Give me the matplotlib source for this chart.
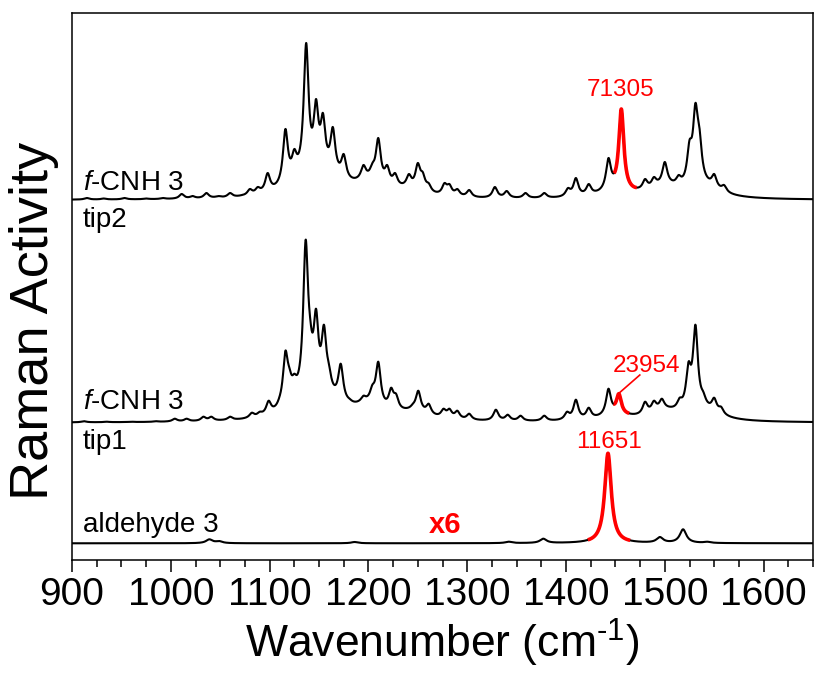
import numpy as np
import matplotlib
matplotlib.use("Agg")
import matplotlib.pyplot as plt
from matplotlib.ticker import MultipleLocator

plt.rcParams['font.family'] = ['Liberation Sans', 'DejaVu Sans']
plt.rcParams['mathtext.fontset'] = 'custom'
plt.rcParams['mathtext.rm'] = 'Liberation Sans'
plt.rcParams['mathtext.it'] = 'Liberation Sans:italic'

# ---- data: sharp band positions (cm-1) and apparent peak heights (arb. units) ----
tip2_pos = [915, 932, 953, 975, 992, 1011, 1022, 1036, 1048, 1060, 1072, 1080, 1088,
            1098, 1116, 1125, 1137, 1147, 1154,
            1164, 1175, 1195, 1204, 1210, 1219, 1227, 1241, 1250, 1255, 1261, 1277,
            1282, 1290, 1302, 1328, 1340, 1359, 1378, 1402, 1410, 1423, 1443, 1456,
            1465, 1480, 1489, 1500, 1514, 1525, 1531, 1535, 1550, 1560]
tip2_h = [2, 1.5, 2, 1.5, 2, 6, 4, 7, 4, 7, 5, 11, 13,
          27, 71, 51, 157, 101, 87,
          73, 46, 35, 37, 62, 35, 27, 26, 37, 28, 17, 17,
          16, 11, 10, 13, 9, 7, 7, 12, 22, 16, 42, 91,
          17, 21, 23, 38, 25, 60, 97, 73, 26, 15]
# broad unresolved background bands
tip2_bg_pos = [1130, 1160, 1200, 1240, 1450, 1500, 1540]
tip2_bg_h = [12, 15, 12, 6, 6, 10, 10]

tip1_pos = [912, 935, 960, 985, 1004, 1016, 1033, 1041, 1060, 1070, 1082, 1090, 1099,
            1110, 1116, 1120, 1125,
            1136.5, 1141, 1147, 1155, 1160, 1172, 1181, 1195, 1204, 1210, 1223, 1228,
            1245, 1250.5, 1261, 1276, 1282, 1290, 1302, 1329, 1341, 1354, 1378, 1401,
            1410, 1423, 1443, 1453.5, 1480, 1489, 1497, 1515, 1524, 1531, 1539, 1550,
            1557]
tip1_h = [1.5, 1, 1, 1.5, 4, 4, 6, 6, 6, 4, 10, 11, 22,
          26, 72, 55, 49,
          183, 105, 114, 98, 59, 59, 24, 27, 38, 61, 35, 29,
          19, 32, 19, 14, 14, 12, 9, 13, 8, 7, 7, 11,
          23, 15, 34, 29, 21, 22, 24, 25, 61, 98, 31, 25,
          16]
tip1_bg_pos = [1130, 1160, 1200, 1245, 1450, 1500, 1540]
tip1_bg_h = [12, 14, 12, 7, 5, 9, 9]

ald_pos = [1039, 1049, 1186, 1342, 1377, 1406, 1416, 1442.5, 1495, 1518.5, 1543]
ald_h = [4, 2.3, 1.3, 1.6, 4.6, 1, 1, 90, 6.3, 14, 1.6]

offsets = {'tip2': 360, 'tip1': 137.3, 'ald': 16.7}
red_ranges = {'tip2': (1448.5, 1471.7), 'tip1': (1448, 1464), 'ald': (1422, 1465)}
labels_red = ['71305', '23954', '11651']

x_min, x_max = 900, 1650


def lor(x, x0, g):
    return g**2 / ((x - x0)**2 + g**2)


def spectrum(x, pos, h, g, bg_pos=(), bg_h=(), g_bg=20.0):
    pos = np.asarray(pos, float)
    h = np.asarray(h, float)
    bgp = np.asarray(bg_pos, float)
    bgh = np.asarray(bg_h, float)

    def bg(xx):
        if len(bgp) == 0:
            return np.zeros_like(xx)
        return (bgh[None, :] * lor(xx[:, None], bgp[None, :], g_bg)).sum(axis=1)

    M = lor(pos[:, None], pos[None, :], g)
    amp = np.linalg.lstsq(M, h - bg(pos), rcond=None)[0]
    amp = np.clip(amp, 0, None)
    return (amp[None, :] * lor(x[:, None], pos[None, :], g)).sum(axis=1) + bg(x)


x = np.linspace(x_min, x_max, 6000)
specs = {
    'tip2': spectrum(x, tip2_pos, tip2_h, 3.0, tip2_bg_pos, tip2_bg_h) + offsets['tip2'],
    'tip1': spectrum(x, tip1_pos, tip1_h, 3.0, tip1_bg_pos, tip1_bg_h) + offsets['tip1'],
    'ald': spectrum(x, ald_pos, ald_h, 4.0) + offsets['ald'],
}

fig = plt.figure(figsize=(8.15, 6.75), dpi=100)
ax = fig.add_axes([72/815, 1-560/675, (813-72)/815, (560-13)/675])

for k, y in specs.items():
    ax.plot(x, y, color='black', lw=1.5, zorder=2)
    lo, hi = red_ranges[k]
    m = (x >= lo) & (x <= hi)
    ax.plot(x[m], y[m], color='#ff0000', lw=2.6, zorder=3, solid_capstyle='butt')

ax.set_xlim(x_min, x_max)
ax.set_ylim(0, 547)
ax.set_yticks([])
ax.set_xticks(np.arange(900, 1601, 100))
ax.xaxis.set_minor_locator(MultipleLocator(25))
ax.tick_params(axis='x', which='major', direction='out', length=8.4, width=1.1,
               labelsize=28, pad=4, top=False)
ax.tick_params(axis='x', which='minor', direction='out', length=4.8, width=1.1, top=False)
for s in ax.spines.values():
    s.set_linewidth(1.1)

ax.set_xlabel(r'Wavenumber (cm$^{\text{-}1}$)', fontsize=32, labelpad=3)
ax.set_ylabel('Raman Activity', fontsize=39)
ax.yaxis.set_label_coords(-0.017, 0.437)

fs = 20
ax.text(911, 370, r'$\mathit{f}$-CNH 3', fontsize=fs, va='baseline', ha='left')
ax.text(911, 333, 'tip2', fontsize=fs, va='baseline', ha='left')
ax.text(911, 151, r'$\mathit{f}$-CNH 3', fontsize=fs, va='baseline', ha='left')
ax.text(911, 111, 'tip1', fontsize=fs, va='baseline', ha='left')
ax.text(911, 28, 'aldehyde 3', fontsize=fs, va='baseline', ha='left')
ax.text(1278, 27, 'x6', fontsize=21, va='baseline', ha='center', color='#ff0000',
        fontweight='bold')
fr = 17.5
ax.text(1455, 464, labels_red[0], fontsize=fr, va='baseline', ha='center', color='#ff0000')
ax.text(1481, 188, labels_red[1], fontsize=fr, va='baseline', ha='center', color='#ff0000')
ax.text(1443.4, 112, labels_red[2], fontsize=fr, va='baseline', ha='center', color='#ff0000')
ax.plot([1474.7, 1453.5], [185, 166.7], color='#ff0000', lw=1.2)

fig.savefig('out.png', dpi=100)
